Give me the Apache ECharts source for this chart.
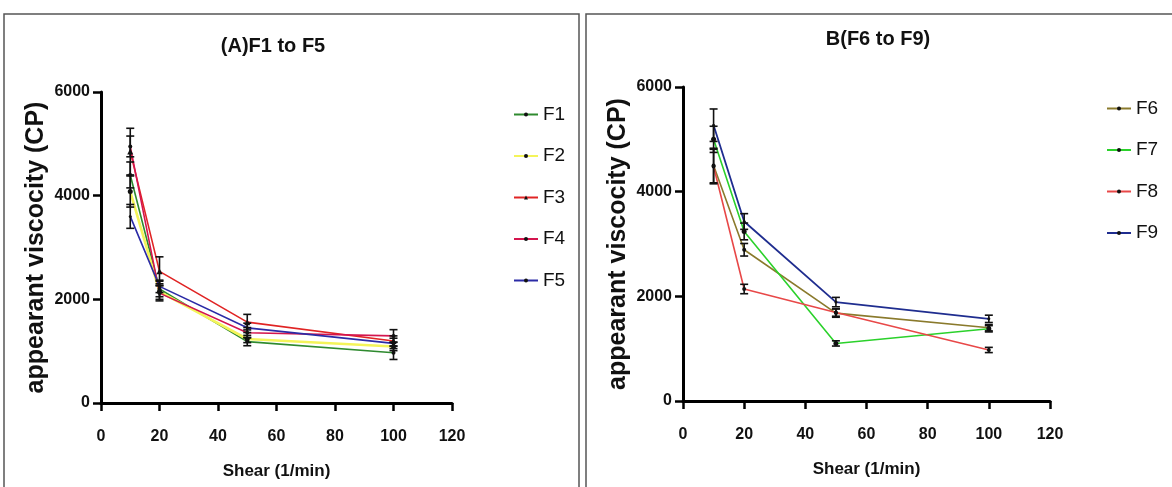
<!DOCTYPE html>
<html>
<head>
<meta charset="utf-8">
<script src="https://cdn.jsdelivr.net/npm/echarts@6/dist/echarts.min.js"></script>
<style>
html,body{margin:0;padding:0;background:#fff;}
#chart{width:1172px;height:487px;}
</style>
</head>
<body>
<div id="chart"></div>
<script>
// ---- data ----
const shear = [10, 20, 50, 100];
const titleA = '(A)F1 to F5';
const titleB = 'B(F6 to F9)';
const yName = 'appearant viscocity (CP)';
const xName = 'Shear (1/min)';
const namesA = ['F1', 'F2', 'F3', 'F4', 'F5'];
const namesB = ['F6', 'F7', 'F8', 'F9'];
const F1 = [4400, 2200, 1185, 970];
const F2 = [4080, 2150, 1235, 1090];
const F3 = [4850, 2540, 1560, 1195];
const F4 = [4950, 2120, 1355, 1295];
const F5 = [3600, 2250, 1450, 1150];
const F6 = [4500, 2890, 1680, 1400];
const F7 = [5000, 3240, 1100, 1380];
const F8 = [4480, 2140, 1690, 975];
const F9 = [5270, 3430, 1890, 1570];
const errF1 = [250, 150, 80, 130];
const errF2 = [300, 150, 70, 80];
const errF3 = [450, 280, 150, 100];
const errF4 = [200, 150, 100, 120];
const errF5 = [230, 120, 90, 100];
const errF6 = [330, 120, 80, 60];
const errF7 = [250, 160, 50, 60];
const errF8 = [330, 90, 70, 50];
const errF9 = [310, 150, 90, 70];

const colorsA = ['#2f8a2f', '#f4f45a', '#e02424', '#d4154e', '#2b2ba6'];
const colorsB = ['#8a7a2c', '#2bd12b', '#e84848', '#1f2d8f'];
const widthsA = [1.6, 2.6, 1.6, 1.6, 1.6];
const widthsB = [1.6, 1.6, 1.6, 1.8];
const symbolsA = ['circle', 'circle', 'triangle', 'circle', 'circle'];
const symbolSizesA = [4, 5, 6, 4, 3];
const symbolsB = ['circle', 'circle', 'circle', 'circle'];
const symbolSizesB = [4, 5, 4, 3];

const valsA = [F1, F2, F3, F4, F5];
const errsA = [errF1, errF2, errF3, errF4, errF5];
const valsB = [F6, F7, F8, F9];
const errsB = [errF6, errF7, errF8, errF9];

const FONT = '"Liberation Sans", Arial, sans-serif';

function xAxisCfg(gi) {
  return {
    gridIndex: gi, type: 'value', min: 0, max: 120, interval: 20,
    name: xName, nameLocation: 'middle', nameGap: 60,
    nameTextStyle: {fontFamily: FONT, fontWeight: 'bold', fontSize: 17, color: '#111'},
    axisLine: {lineStyle: {color: '#000', width: 3}},
    axisTick: {length: 8, lineStyle: {color: '#000', width: 2.5}},
    axisLabel: {fontFamily: FONT, fontWeight: 'bold', fontSize: 16, color: '#111', margin: 26},
    splitLine: {show: false}
  };
}
function yAxisCfg(gi) {
  return {
    gridIndex: gi, type: 'value', min: 0, max: 6000, interval: 2000,
    name: yName, nameLocation: 'middle', nameGap: 52, nameRotate: 90,
    nameTextStyle: {fontFamily: FONT, fontWeight: 'bold', fontSize: 25, color: '#111'},
    axisLine: {show: true, lineStyle: {color: '#000', width: 3}},
    axisTick: {show: true, length: 8, lineStyle: {color: '#000', width: 2.5}},
    axisLabel: {fontFamily: FONT, fontWeight: 'bold', fontSize: 16, color: '#111', margin: 11,
                formatter: function (v) { return String(v); }},
    splitLine: {show: false}
  };
}

function errSeries(name, vals, errs, gi) {
  return {
    name: name + ' err', type: 'custom', xAxisIndex: gi, yAxisIndex: gi, z: 5,
    data: shear.map((x, i) => [x, vals[i], errs[i]]),
    renderItem: function (params, api) {
      const x = api.value(0), y = api.value(1), e = api.value(2);
      const top = api.coord([x, y + e]);
      const bot = api.coord([x, y - e]);
      const w = 4;
      const st = {stroke: '#111', lineWidth: 1.6};
      return {type: 'group', children: [
        {type: 'line', shape: {x1: top[0], y1: top[1], x2: bot[0], y2: bot[1]}, style: st},
        {type: 'line', shape: {x1: top[0] - w, y1: top[1], x2: top[0] + w, y2: top[1]}, style: st},
        {type: 'line', shape: {x1: bot[0] - w, y1: bot[1], x2: bot[0] + w, y2: bot[1]}, style: st}
      ]};
    }
  };
}

function lineSeries(name, vals, color, width, sym, size, gi) {
  return {
    name: name, type: 'line', xAxisIndex: gi, yAxisIndex: gi, z: 4,
    data: shear.map((x, i) => [x, vals[i]]),
    symbol: sym, symbolSize: size, showSymbol: true,
    lineStyle: {color: color, width: width},
    itemStyle: {color: '#111', borderWidth: 0},
    emphasis: {disabled: true}
  };
}

const series = [];
namesA.forEach((n, i) => {
  series.push(lineSeries(n, valsA[i], colorsA[i], widthsA[i], symbolsA[i], symbolSizesA[i], 0));
  series.push(errSeries(n, valsA[i], errsA[i], 0));
});
namesB.forEach((n, i) => {
  series.push(lineSeries(n, valsB[i], colorsB[i], widthsB[i], symbolsB[i], symbolSizesB[i], 1));
  series.push(errSeries(n, valsB[i], errsB[i], 1));
});

const legendText = {fontFamily: FONT, fontSize: 19, color: '#111', lineHeight: 19};
const chart = echarts.init(document.getElementById('chart'), null, {renderer: 'canvas'});
chart.setOption({
  animation: false,
  backgroundColor: '#fff',
  title: [
    {text: titleA, left: 268, top: 31, textAlign: 'center',
     textStyle: {fontFamily: FONT, fontWeight: 'bold', fontSize: 20, color: '#111'}},
    {text: titleB, left: 873, top: 24, textAlign: 'center',
     textStyle: {fontFamily: FONT, fontWeight: 'bold', fontSize: 20, color: '#111'}}
  ],
  grid: [
    {left: 101, top: 92, width: 351, height: 311},
    {left: 683, top: 87, width: 367, height: 314}
  ],
  xAxis: [xAxisCfg(0), xAxisCfg(1)],
  yAxis: [yAxisCfg(0), yAxisCfg(1)],
  legend: [
    {data: namesA, orient: 'vertical', left: 508, top: 100, itemWidth: 24, itemHeight: 5,
     itemGap: 22.5, textStyle: legendText},
    {data: namesB, orient: 'vertical', left: 1101, top: 94, itemWidth: 24, itemHeight: 5,
     itemGap: 22.5, textStyle: legendText}
  ],
  graphic: [
    {type: 'rect', shape: {x: 4, y: 14, width: 575, height: 480}, style: {fill: 'none', stroke: '#555', lineWidth: 1.5}, silent: true},
    {type: 'rect', shape: {x: 586, y: 14, width: 600, height: 480}, style: {fill: 'none', stroke: '#555', lineWidth: 1.5}, silent: true}
  ],
  series: series
});
</script>
</body>
</html>
